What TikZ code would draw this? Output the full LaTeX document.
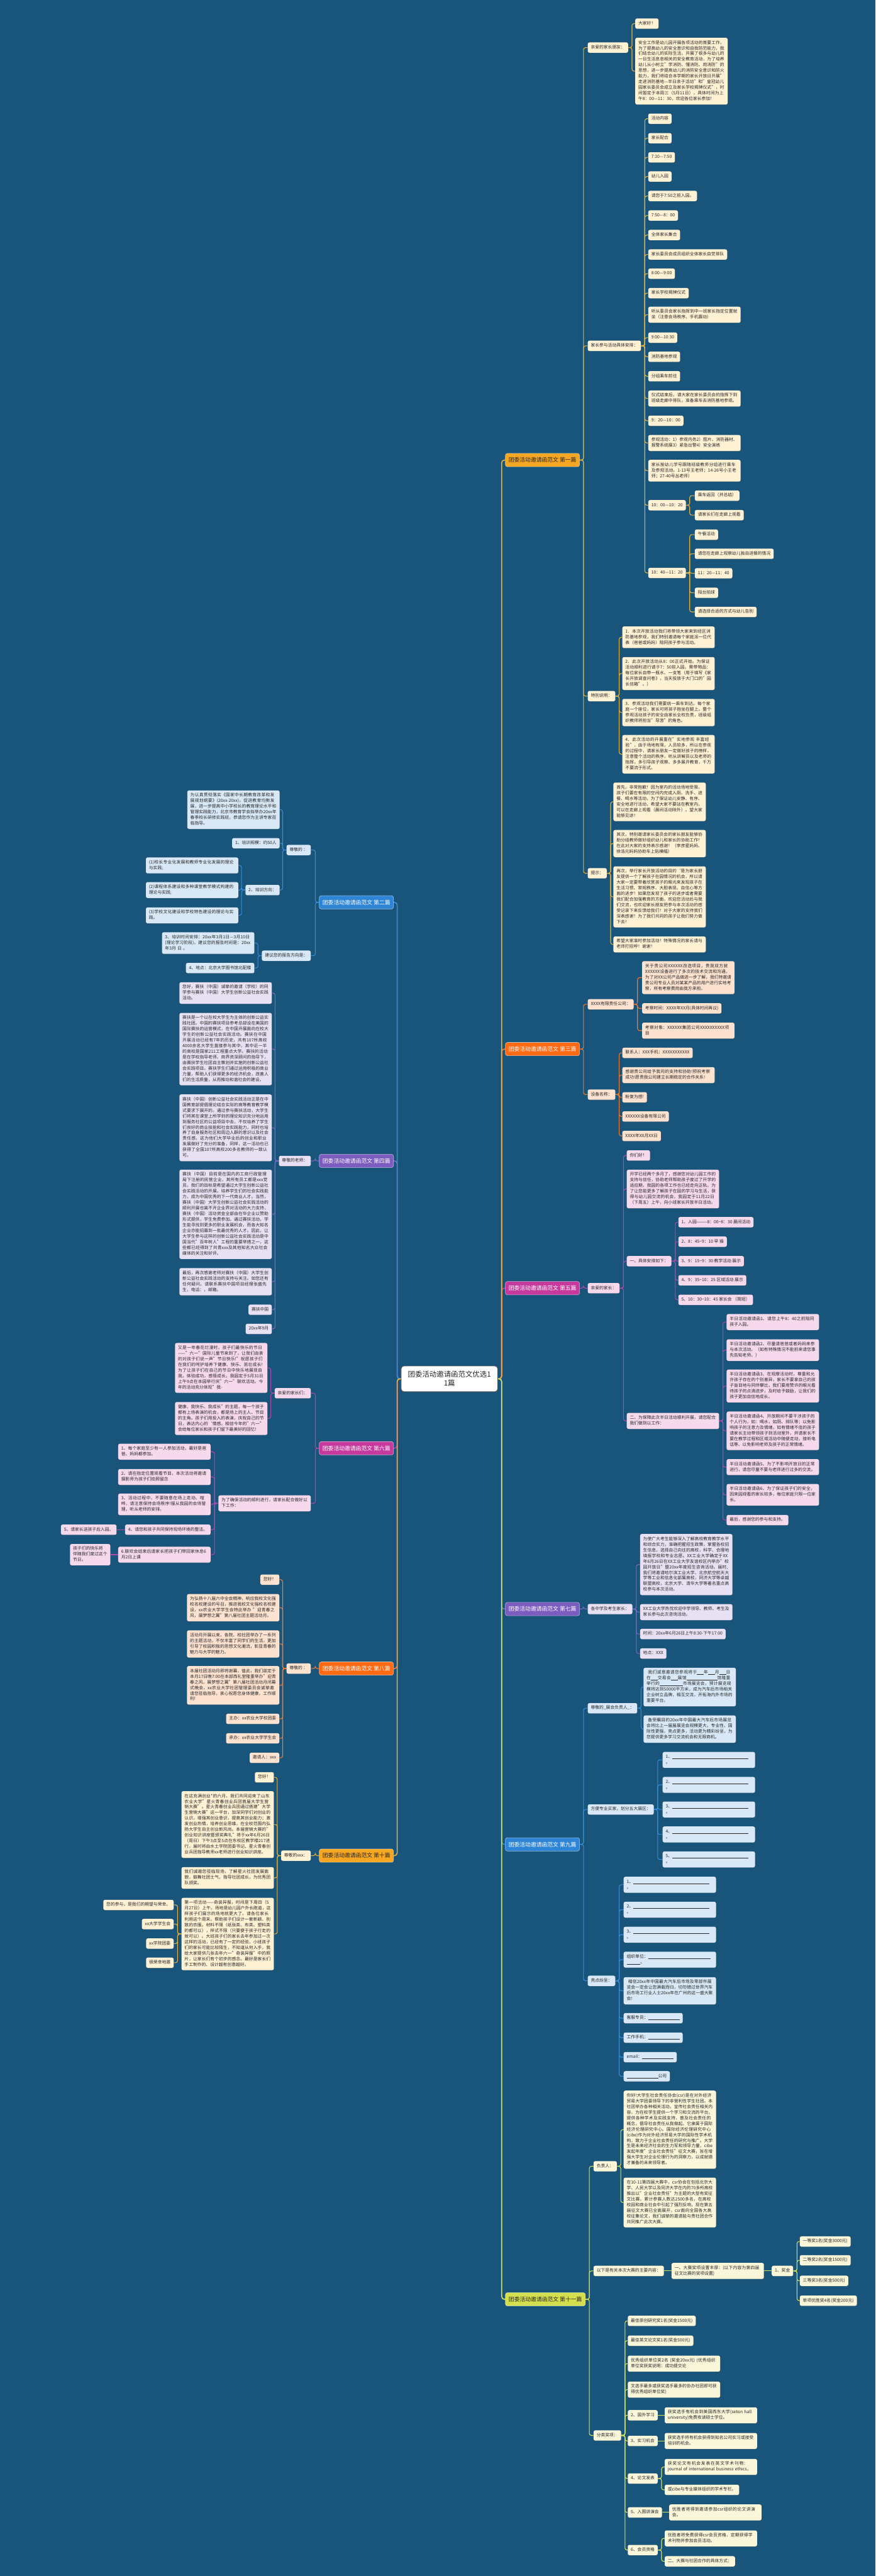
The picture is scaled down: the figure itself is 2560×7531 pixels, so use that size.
\documentclass[tikz,border=0pt]{standalone}
\usepackage{fontspec}
\setmainfont{Noto Sans CJK SC}
\XeTeXlinebreaklocale "zh"
\XeTeXlinebreakskip=0pt plus 1pt
\usetikzlibrary{positioning, backgrounds, calc, shadows}

\definecolor{bgblue}{HTML}{19547A}
% palettes: node fill, leaf fill, line
\definecolor{ndA}{HTML}{F5A623}\definecolor{lfA}{HTML}{FFF1D4}\definecolor{lnA}{HTML}{E7B23C}
\definecolor{ndC}{HTML}{FF6A13}\definecolor{lfC}{HTML}{FDE2D0}\definecolor{lnC}{HTML}{EE7A32}
\definecolor{ndE}{HTML}{C63A9E}\definecolor{lfE}{HTML}{F6D9EC}\definecolor{lnE}{HTML}{AC4BAB}
\definecolor{ndG}{HTML}{7C5CBF}\definecolor{lfG}{HTML}{E8E1F3}\definecolor{lnG}{HTML}{7A69C2}
\definecolor{ndI}{HTML}{2E85D6}\definecolor{lfI}{HTML}{D8E8F6}\definecolor{lnI}{HTML}{3A8DD8}
\definecolor{ndK}{HTML}{D3DF4C}\definecolor{lfK}{HTML}{F9F6DA}\definecolor{lnK}{HTML}{D6E153}

\newcommand\leaffont{\fontsize{6.25}{8.25}\selectfont}
\newcommand\fillin[1]{\rule[-0.8pt]{#1}{0.35pt}}

\begin{document}
\begin{tikzpicture}[
    x=0.5pt, y=-0.5pt,
    leaf/.style={
        rounded corners=2.5pt, inner xsep=4.5pt, inner ysep=3.4pt,
        font=\leaffont, text=black!85, align=left,
        execute at begin node=\strut, execute at end node=\strut,
        drop shadow={shadow xshift=0.4pt, shadow yshift=-0.6pt, opacity=0.35}
    },
    para/.style={text width=126pt},
    leafA/.style={leaf, fill=lfA}, leafC/.style={leaf, fill=lfC},
    leafE/.style={leaf, fill=lfE}, leafG/.style={leaf, fill=lfG},
    leafI/.style={leaf, fill=lfI}, leafK/.style={leaf, fill=lfK},
    branch/.style={
        rounded corners=3pt, minimum width=108.5pt, minimum height=19.5pt,
        inner xsep=3pt, font=\fontsize{8.1}{9.5}\selectfont,
        draw=white, draw opacity=0.6, line width=0.5pt
    },
    branchA/.style={branch, fill=ndA, text=black!85},
    branchC/.style={branch, fill=ndC, text=white},
    branchE/.style={branch, fill=ndE, text=white},
    branchG/.style={branch, fill=ndG, text=white},
    branchI/.style={branch, fill=ndI, text=white},
    branchK/.style={branch, fill=ndK, text=black!85},
    hub/.style={
        rectangle, rounded corners=4pt, fill=white, draw=black!65, line width=0.8pt,
        minimum width=141pt, minimum height=37.5pt, align=center,
        font=\fontsize{10.5}{13}\selectfont, text=black!85
    },
    brR/.style={to path={-- ++(11,0) |- (\tikztotarget)}},
    brL/.style={to path={-- ++(-11,0) |- (\tikztotarget)}},
    link/.style={line width=1pt, rounded corners=3pt},
    trunk/.style={line width=1.5pt, rounded corners=4pt},
    linkA/.style={link, draw=lnA}, linkC/.style={link, draw=lnC},
    linkE/.style={link, draw=lnE}, linkG/.style={link, draw=lnG},
    linkI/.style={link, draw=lnI}, linkK/.style={link, draw=lnK}
]
\useasboundingbox (0,0) rectangle (2560,7531);

% ---------------- Root and branches ----------------
\node[hub] (hub) at (1314,4031) {团委活动邀请函范文优选1\\1篇};

\node[branchA, anchor=west] (bA) at (1477,1345) {团委活动邀请函范文 第一篇};
\node[branchC, anchor=west] (bC) at (1477,3067) {团委活动邀请函范文 第三篇};
\node[branchE, anchor=west] (bE) at (1477,3766) {团委活动邀请函范文 第五篇};
\node[branchG, anchor=west] (bG) at (1477,4704) {团委活动邀请函范文 第七篇};
\node[branchI, anchor=west] (bI) at (1477,5392) {团委活动邀请函范文 第九篇};
\node[branchK, anchor=west, minimum width=117pt] (bK) at (1477,6722) {团委活动邀请函范文 第十一篇};

\node[branchI, anchor=east] (bB) at (1151,2638) {团委活动邀请函范文 第二篇};
\node[branchG, anchor=east] (bD) at (1151,3394) {团委活动邀请函范文 第四篇};
\node[branchE, anchor=east] (bF) at (1151,4234) {团委活动邀请函范文 第六篇};
\node[branchC, anchor=east] (bH) at (1151,4878) {团委活动邀请函范文 第八篇};
\node[branchA, anchor=east] (bJ) at (1151,5425) {团委活动邀请函范文 第十篇};

% ---------------- 第一篇 ----------------
\node[leafA, anchor=west] (a1) at (1718,139) {亲爱的家长朋友：};
\node[leafA, anchor=west] (a11) at (1857,69) {大家好！};
\node[leafA, para, anchor=west] (a12) at (1857,208) {安全工作是幼儿园开展各项活动的首要工作，为了提高幼儿的安全意识和自我防范能力，我们结合幼儿的实际生活，开展了很多与幼儿的一日生活息息相关的安全教育活动，为了培养幼儿从小树立"学消防、懂消防、用消防"的思想，进一步提高幼儿的消防安全意识和防火能力，我们将结合本学期的家长开放日开展"走进消防基地—半日亲子活动"和"皇冠幼儿园家长委员会成立及家长学校揭牌仪式"，时间暂定于本周三（5月11日），具体时间为上午8：00—11：30，欢迎各位家长参加！};

\node[leafA, anchor=west] (a2) at (1718,1011) {家长参与活动具体安排：};
\node[leafA, anchor=west] (a21) at (1895,347) {活动内容};
\node[leafA, anchor=west] (a22) at (1895,404) {家长配合};
\node[leafA, anchor=west] (a23) at (1895,460) {7:10—7:50};
\node[leafA, anchor=west] (a24) at (1895,516) {幼儿入园};
\node[leafA, anchor=west] (a25) at (1895,573) {请您于7:50之前入园。};
\node[leafA, anchor=west] (a26) at (1895,630) {7:50—8：00};
\node[leafA, anchor=west] (a27) at (1895,687) {全体家长集合};
\node[leafA, anchor=west] (a28) at (1895,744) {家长委员会成员组织全体家长自觉排队};
\node[leafA, anchor=west] (a29) at (1895,800) {8:00—9:00};
\node[leafA, anchor=west] (a210) at (1895,857) {家长学校揭牌仪式};
\node[leafA, para, anchor=west] (a211) at (1895,920) {听从委员会家长指挥到中一班家长指定位置就坐（注意会场秩序、手机震动）};
\node[leafA, anchor=west] (a212) at (1895,987) {9:00—10:30};
\node[leafA, anchor=west] (a213) at (1895,1043) {消防基地参观};
\node[leafA, anchor=west] (a214) at (1895,1100) {分组乘车前往};
\node[leafA, para, anchor=west] (a215) at (1895,1165) {仪式结束后，请大家在家长委员会的指挥下到班级走廊中排队，准备乘车去消防基地参观。};
\node[leafA, anchor=west] (a216) at (1895,1230) {9：20—10：00};
\node[leafA, para, anchor=west] (a217) at (1895,1295) {参观活动：1）参观内务2）图片、消防器材、报警系统展3）紧急出警4）安全演练};
\node[leafA, para, anchor=west] (a218) at (1895,1376) {家长按幼儿学号跟随班级教师分组进行乘车及参观活动。1-13号王老师；14-26号小王老师；27-40号丛老师）};
\node[leafA, anchor=west] (a219) at (1895,1477) {10：00—10：20};
\node[leafA, anchor=west] (a2191) at (2031,1449) {乘车返回（并总结）};
\node[leafA, anchor=west] (a2192) at (2031,1506) {请家长们在走廊上观看};
\node[leafA, anchor=west] (a220) at (1895,1675) {10：40—11：20};
\node[leafA, anchor=west] (a2201) at (2031,1563) {午餐活动};
\node[leafA, anchor=west] (a2202) at (2031,1619) {请您在走廊上观察幼儿独自进餐的情况};
\node[leafA, anchor=west] (a2203) at (2031,1676) {11：20—11：40};
\node[leafA, anchor=west] (a2204) at (2031,1733) {阳台拍球};
\node[leafA, anchor=west] (a2205) at (2031,1789) {请选择合适的方式与幼儿告别};

\node[leafA, anchor=west] (a3) at (1718,2035) {特别说明：};
\node[leafA, para, anchor=west] (a31) at (1819,1863) {1．本次开放活动我们将带领大家来到经区消防基地参观，我们特别邀请每个家庭派一位代表（爸爸或妈妈）陪同孩子参与活动。};
\node[leafA, para, anchor=west] (a32) at (1819,1969) {2．此次开放活动从8：00正式开始。为保证活动顺利进行请于7：50前入园。需带物品：每位家长自带一瓶水、一支笔（用于填写《家长开放调查问卷》，当天投放于大门口的"园长信箱"。）};
\node[leafA, para, anchor=west] (a33) at (1819,2083) {3．参观活动我们需要统一乘车到达。每个家庭一个座位，家长可将孩子抱坐在腿上。整个参观活动孩子的安全由家长全权负责，班级组织教师将担当"导游"的角色。};
\node[leafA, para, anchor=west] (a34) at (1819,2205) {4．此次活动的开展重在"实地参观 丰富经验"，由于场地有限，人员较多，所以在参观的过程中，请家长朋友一定做好孩子的榜样，注意整个活动的秩序，听从讲解员以及老师的指挥，多引导孩子观察、多多展开教育，千万不要流于形式。};

\node[leafA, anchor=west] (a4) at (1718,2553) {提示：};
\node[leafA, para, anchor=west] (a41) at (1793,2344) {首先，非常抱歉！因为室内的活动场地受限，孩子们要在有限的空间内完成入厕、洗手、进餐、喝水等活动，为了保证幼儿安静、有序、安全地进行活动，希望大家不要站在教室内，可以在走廊上观看（晨间活动除外）。望大家能够见谅！};
\node[leafA, para, anchor=west] (a42) at (1793,2466) {其次，特别邀请家长委员会的家长朋友能够协助分组教师做好组织幼儿和家长的协助工作！在此对大家的支持表示感谢！（李彦星妈妈、徐浩元妈妈协助车上贴横幅）};
\node[leafA, para, anchor=west] (a43) at (1793,2622) {再次，举行家长开放活动的目的`是为家长朋友提供一个了解孩子在园情况的机会，所以请大家一定要带着欣赏孩子的眼光来发现孩子在生活习惯、常规秩序、大胆表现、自信心等方面的进步！如果您发现了孩子的进步或者需要我们配合加强教育的方面，欢迎您活动后与我们交流，也欢迎家长朋友把参与本次活动的感受记录下来反馈给我们！对于大家的支持我们深表感谢！为了我们共同的孩子让我们努力做下去！};
\node[leafA, para, anchor=west] (a44) at (1793,2761) {希望大家准时参加活动！特殊情况的家长请与老师打招呼！谢谢！};

% ---------------- 第三篇 ----------------
\node[leafC, anchor=west] (c1) at (1718,2936) {XXXX有限责任公司：};
\node[leafC, para, anchor=west] (c11) at (1877,2858) {关于贵公司XXXXXX改造项目，贵我双方就XXXXXX设备进行了多次的技术交流和沟通，为了对XX公司产品做进一步了解，我们特邀请贵公司专业人员对某某产品的用户进行实地考察，所有考察费用由我方承担。};
\node[leafC, anchor=west] (c12) at (1877,2948) {考察时间：XXXX年XX月(具体时间再议)};
\node[leafC, para, anchor=west] (c13) at (1877,3013) {考察对象：XXXXXX集团公司XXXXXXXXXX项目};
\node[leafC, anchor=west] (c2) at (1718,3200) {设备名称：};
\node[leafC, anchor=west] (c21) at (1819,3078) {联系人：XXX手机：XXXXXXXXXXX};
\node[leafC, para, anchor=west] (c22) at (1819,3143) {感谢贵公司给予我司的支持和协助!预祝考察成功!愿贵我公司建立长期稳定的合作关系!};
\node[leafC, anchor=west] (c23) at (1819,3208) {盼复为感!};
\node[leafC, anchor=west] (c24) at (1819,3264) {XXXXXX设备有限公司};
\node[leafC, anchor=west] (c25) at (1819,3321) {XXXX年XX月XX日};

% ---------------- 第五篇 ----------------
\node[leafE, anchor=west] (e1) at (1718,3766) {亲爱的家长：};
\node[leafE, anchor=west] (e11) at (1832,3378) {你们好！};
\node[leafE, para, anchor=west] (e12) at (1832,3476) {开学已经两个多月了，感谢您对幼儿园工作的支持与信任，协助老师帮助孩子度过了开学的适应期，我园的各项工作也已经走向正轨。为了让您能更多了解孩子在园的学习与生活，获得与幼儿园交流的机会，我园定于11月22日（下周五）上午，向小班家长开放半日活动。};
\node[leafE, anchor=west] (e13) at (1832,3687) {一、具体安排如下：};
\node[leafE, anchor=west] (e131) at (1983,3573) {1、入园———8：00\textasciitilde 8：30 晨间活动};
\node[leafE, anchor=west] (e132) at (1983,3630) {2、8：45\textasciitilde 9：10 早 操};
\node[leafE, anchor=west] (e133) at (1983,3687) {3、9：15\textasciitilde 9：30 教学活动 展示};
\node[leafE, anchor=west] (e134) at (1983,3743) {4、9：35\textasciitilde 10：25 区域活动 展示};
\node[leafE, anchor=west] (e135) at (1983,3800) {5、10：30\textasciitilde 10：45 家长会 （简短）};
\node[leafE, para, anchor=west] (e14) at (1832,4154) {二、为保障此次半日活动顺利开展，请您配合我们做到以工作：};
\node[leafE, para, anchor=west] (e141) at (2124,3865) {半日活动邀请函1、请您上午8：40之前陪同孩子入园。};
\node[leafE, para, anchor=west] (e142) at (2124,3947) {半日活动邀请函2、尽量请爸爸或者妈妈来参与本次活动。（如有特殊情况不能前来请您事先告知老师。）};
\node[leafE, para, anchor=west] (e143) at (2124,4052) {半日活动邀请函3、在观摩活动时，尊重和允许孩子存在的个别差异，家长不要拿自己的孩子盲目地与同伴攀比，我们要用赞许的眼光看待孩子的点滴进步，及时给予鼓励，让我们的孩子更加自信地成长。};
\node[leafE, para, anchor=west] (e144) at (2124,4183) {半日活动邀请函4、开放期间不要干涉孩子的个人行为，如：喝水，如厕、排队等；以免影响孩子的注意力及情绪，如有情绪不佳的孩子请家长主动带领孩子到活动室外，并请家长不要在教学过程和区域活动中随便走动，接听电话等、以免影响老师及孩子的正常情绪。};
\node[leafE, para, anchor=west] (e145) at (2124,4289) {半日活动邀请函5、为了不影响开放日的正常进行，请您尽量不要与老师进行过多的交流。};
\node[leafE, para, anchor=west] (e146) at (2124,4370) {半日活动邀请函6、为了保证孩子们的安全，因来园观看的家长较多，每位家庭只限一位家长。};
\node[leafE, anchor=west] (e147) at (2124,4444) {最后，感谢您的参与和支持。};

% ---------------- 第七篇 ----------------
\node[leafG, anchor=west] (g1) at (1718,4704) {各中学及考生家长：};
\node[leafG, para, anchor=west] (g11) at (1871,4574) {为使广大考生能够深入了解高校教育教学水平和综合实力，准确把握招生政策，掌握各校招生信息，选择自己向往的高校，科学、合理地填报学校和专业志愿。XX工业大学确定于XX年6月26日在XX工业大学友谊校区内举办"校园开放日"暨20xx年度招生咨询活动。届时,我们将邀请哈尔滨工业大学、北京航空航天大学等工业和信息化部属高校，同济大学等卓越联盟高校，北京大学、清华大学等著名重点高校参与本次活动。};
\node[leafG, para, anchor=west] (g12) at (1871,4713) {XX工业大学热忱欢迎中学领导、教师、考生及家长参与此次咨询活动。};
\node[leafG, anchor=west] (g13) at (1871,4777) {时间：20xx年6月26日上午8:30-下午17:00};
\node[leafG, anchor=west] (g14) at (1871,4834) {地点：XXX};

% ---------------- 第九篇 ----------------
\node[leafI, anchor=west] (i1) at (1718,4994) {尊敬的\_展会负责人\_：};
\node[leafI, para, anchor=west] (i11) at (1881,4932) {\ 我们诚意邀请您参观将于\fillin{10pt}年\fillin{10pt}月\fillin{10pt}日在\fillin{10pt}交易会\fillin{10pt}展馆\fillin{45pt}馆隆重举行的\fillin{34pt}市场展览会，预计展览规模将达到50000平方米，成为汽车后市场相关企业树立品牌，相互交流，开拓海内外市场的重要平台。};
\node[leafI, para, anchor=west] (i12) at (1881,5055) {\ 备受瞩目的20xx年中国最大汽车后市场展览会将比上一届届展览会规模更大，专业性、国际性更强，亮点更多，活动更为精彩纷呈，为您提供更多学习交流机会和无限商机。};
\node[leafI, anchor=west] (i2) at (1718,5290) {方便专业买家，划分五大展区：};
\node[leafI, para, anchor=west] (i21) at (1937,5145) {1、\fillin{111pt}\\。};
\node[leafI, para, anchor=west] (i22) at (1937,5218) {2、\fillin{111pt}\\。};
\node[leafI, para, anchor=west] (i23) at (1937,5290) {3、\fillin{111pt}\\。};
\node[leafI, para, anchor=west] (i24) at (1937,5363) {4、\fillin{111pt}\\。};
\node[leafI, para, anchor=west] (i25) at (1937,5436) {5、\fillin{111pt}\\。};
\node[leafI, anchor=west] (i3) at (1718,5791) {亮点纷呈：};
\node[leafI, para, anchor=west] (i31) at (1823,5510) {1、\fillin{111pt}\\。};
\node[leafI, para, anchor=west] (i32) at (1823,5583) {2、\fillin{111pt}\\。};
\node[leafI, para, anchor=west] (i33) at (1823,5656) {3、\fillin{111pt}\\。};
\node[leafI, para, anchor=west] (i34) at (1823,5729) {组织单位：\fillin{91pt}\\\fillin{20pt}。};
\node[leafI, para, anchor=west] (i35) at (1823,5820) {\ 相信20xx年中国最大汽车后市场及零部件展览会一定会让您满载而归，切勿错过世界汽车后市场工行业人士20xx年在广州的这一盛大聚会!};
\node[leafI, anchor=west] (i36) at (1823,5900) {客服专员：\fillin{46pt}};
\node[leafI, anchor=west] (i37) at (1823,5957) {工作手机：\fillin{46pt}};
\node[leafI, anchor=west] (i38) at (1823,6014) {email：\fillin{46pt}};
\node[leafI, anchor=west] (i39) at (1823,6070) {\fillin{46pt}公司};

% ---------------- 第十一篇 ----------------
\node[leafK, anchor=west] (k1) at (1735,6333) {负责人：};
\node[leafK, para, anchor=west] (k11) at (1823,6226) {你好!大学生社会责任协会(csr)是在对外经济贸易大学团委领导下的非营利性学生社团。本社团举办各种相关活动，宣传社会责任相关内容，为在校学生提供一个学习和交流的平台，提供各种学术及实践支持，普及社会责任的概念，倡导社会责任从我做起。它隶属于国际经济伦理研究中心。国际经济伦理研究中心(cibe)作为对外经济贸易大学的国际性学术机构，致力于企业社会责任的研究与推广。大学生是未来经济社会的生力军和领导力量，cibe发起年度"企业社会责任"征文大赛，旨在增强大学生对企业伦理行为的洞察力，以成就德才兼备的未来领导者。};
\node[leafK, para, anchor=west] (k12) at (1823,6439) {在10-11第四届大赛中，csr协会在包括北京大学、人民大学以及同济大学在内的70多所高校推出以"企业社会责任"为主题的大型有奖征文比赛，累计参赛人数达2500多名，在高校校园和商业社会中引起了强烈反响，现在第五届征文大赛已全面展开，csr面向全国各大高校征集论文，我们诚挚的邀请能与贵社团合作共同推广此次大赛。};
\node[leafK, anchor=west] (k2) at (1735,6639) {以下是有关本次大赛的主要内容：};
\node[leafK, para, anchor=west] (k21) at (1963,6639) {一、大赛奖项设置丰厚：(以下内容为第四届征文比赛的奖项设置)};
\node[leafK, anchor=west] (k211) at (2256,6639) {1、奖金};
\node[leafK, anchor=west] (k2111) at (2338,6553) {一等奖1名(奖金3000元)};
\node[leafK, anchor=west] (k2112) at (2338,6608) {二等奖2名(奖金1500元)};
\node[leafK, anchor=west] (k2113) at (2338,6668) {三等奖3名(奖金500元)};
\node[leafK, anchor=west] (k2114) at (2338,6726) {单项优胜奖4名(奖金200元)};
\node[leafK, anchor=west] (k3) at (1735,7120) {分类奖项：};
\node[leafK, anchor=west] (k31) at (1835,6785) {最佳原创研究奖1名(奖金1500元)};
\node[leafK, anchor=west] (k32) at (1835,6843) {最佳英文论文奖1名(奖金500元)};
\node[leafK, para, anchor=west] (k33) at (1835,6910) {优秀组织单位奖2名 (奖金20xx元) (优秀组织单位奖获奖说明：成功提交论};
\node[leafK, para, anchor=west] (k34) at (1835,6986) {文选手最多或获奖选手最多的协办社团即可获得优秀组织单位奖)};
\node[leafK, anchor=west] (k35) at (1835,7061) {2、国外学习};
\node[leafK, para, anchor=west] (k351) at (1943,7061) {获奖选手有机会到美国西东大学(seton hall university)免费攻读硕士学位。};
\node[leafK, anchor=west] (k36) at (1835,7136) {3、实习机会};
\node[leafK, para, anchor=west] (k361) at (1943,7136) {获奖选手将有机会获得到知名公司实习或接受培训的机会。};
\node[leafK, anchor=west] (k37) at (1835,7246) {4、论文发表};
\node[leafK, para, anchor=west] (k371) at (1943,7212) {获奖论文有机会发表在英文学术刊物：journal of international business ethics，};
\node[leafK, anchor=west] (k372) at (1943,7279) {或cibe与专业媒体组织的学术专栏。};
\node[leafK, anchor=west] (k38) at (1835,7345) {5、入围讲演会};
\node[leafK, para, anchor=west] (k381) at (1956,7345) {优胜者将得到邀请参加csr组织的论文讲演会。};
\node[leafK, anchor=west] (k39) at (1835,7455) {6、会员资格};
\node[leafK, para, anchor=west] (k391) at (1943,7421) {优胜者将免费获得csr会员资格，定期获得学术刊物并参加会员活动。};
\node[leafK, anchor=west] (k392) at (1943,7488) {二、大赛与社团合作的具体方式：};

% ---------------- 第二篇 ----------------
\node[leafI, anchor=east] (b1) at (909,2485) {尊敬的 ：};
\node[leafI, para, anchor=east] (b11) at (818,2367) {为认真贯彻落实《国家中长期教育改革和发展规划纲要》(20xx-20xx)，促进教育均衡发展，进一步提高中小学校长的教育理论水平和管理实践能力，北京市教育学会拟举办20xx年春季校长研修实践班，恭请您作为主讲专家莅临指导。};
\node[leafI, anchor=east] (b12) at (818,2465) {1、培训规模：约50人};
\node[leafI, anchor=east] (b13) at (818,2602) {2、培训方向：};
\node[leafI, para, anchor=east] (b131) at (697,2530) {(1)校长专业化发展和教师专业化发展的理论与实践;};
\node[leafI, para, anchor=east] (b132) at (697,2602) {(2)课程体系建设和多种课堂教学模式构建的理论与实践;};
\node[leafI, para, anchor=east] (b133) at (697,2676) {(3)学校文化建设和学校特色建设的理论与实践。};
\node[leafI, anchor=east] (b2) at (909,2794) {建议您的报告方向是：};
\node[leafI, para, anchor=east] (b21) at (744,2757) {3、培训时间安排：20xx年3月1日—3月10日(理论学习阶段)，建议您的报告时间是：20xx年3月 日 。};
\node[leafI, anchor=east] (b22) at (744,2830) {4、地点：北京大学图书馆北配楼};

% ---------------- 第四篇 ----------------
\node[leafG, anchor=east] (d1) at (909,3394) {尊敬的老师：};
\node[leafG, para, anchor=east] (d11) at (795,2903) {您好，赛扶（中国）诚挚的邀请（学校）的同学参与赛扶（中国）大学生创新公益社会实践活动。};
\node[leafG, para, anchor=east] (d12) at (795,3067) {赛扶是一个以在校大学生为主体的创新公益实践社团。中国的赛扶项目参考总部设在美国的国际赛扶的运营模式，在中国开展面向在校大学生的创新公益社会实践活动。赛扶在中国开展活动已经有7年的历史，共有107所高校4000余名大学生直接参与其中，其中近一半的高校是国家211工程重点大学。赛扶的活动是在学校指导老师、商界资深顾问的指导下，由赛扶学生社团自主策划并实施的创新公益社会实践项目。赛扶学生们通过运用积极的商业力量，帮助人们获得更多的经济机会，改善人们的生活质量，从而推动和谐社会的建设。};
\node[leafG, para, anchor=east] (d13) at (795,3297) {赛扶（中国）创新公益社会实践活动正是在中国教育部提倡理论结合实际的高等教育教学模式要求下展开的。通过参与赛扶活动，大学生们将其在课堂上所学到的理论知识充分地运用到服务社区的公益项目中去，不仅培养了学生们良好的商业技能和社会实践能力，同时也培养了自身服务社区和周边人群的意识以及社会责任感，这为他们大学毕业后的创业和职业发展做好了充分的准备，同样，这一活动也已获得了全国107所高校200多名教师的一致认可。};
\node[leafG, para, anchor=east] (d14) at (795,3550) {赛扶（中国）目前是在国内的工商行政管理局下注册的民营企业，其所有员工都是xxx党员。我们的目标是希望通过大学生创新公益社会实践活动的开展，培养学生们的社会实践能力，成为中国优秀的下一代商业人才。当然，赛扶（中国）大学生创新公益社会实践活动的顺利开展也离不开企业界对活动的大力支持，赛扶（中国）活动资金全部由在华企业以赞助形式提供，学生免费参加。通过赛扶活动，学生能寻找到更多的职业发展机会，而各大知名企业亦能招募到一批最优秀的人才。因此，让大学生参与这样的创新公益社会实践活动是中国当代"百年树人"工程的重要举措之一，这些都已经得到了共青xxx及其他知名大众社会媒体的关注和好评。};
\node[leafG, para, anchor=east] (d15) at (795,3747) {最后，再次感谢老师对赛扶（中国）大学生创新公益社会实践活动的支持与关注。如您还有任何疑问，请联系赛扶中国项目经理张盛先生，电话：，邮箱。};
\node[leafG, anchor=east] (d16) at (795,3829) {赛扶中国};
\node[leafG, anchor=east] (d17) at (795,3885) {20xx年9月};

% ---------------- 第六篇 ----------------
\node[leafE, anchor=east] (f1) at (909,4073) {亲爱的家长们：};
\node[leafE, para, anchor=east] (f11) at (782,3999) {又是一年春花烂漫时，孩子们最快乐的节日——"六一"国际儿童节来到了，让我们由衷的对孩子们说一声"节日快乐!"祝愿孩子们在我们的呵护培养下健康、快乐、茁壮成长!为了让孩子们在自己的节日中快乐地展现自我，体验成功，感悟成长，我园定于5月31日上午9点在本园举行庆"六一"联欢活动。今年的活动充分体现"我-};
\node[leafE, para, anchor=east] (f12) at (782,4147) {健康、我快乐、我成长"的主题，每一个孩子都有上场表演的机会，都是场上的主人、节目的主角。孩子们用投入的表演，庆祝自己的节日，表达内心的`情感。相信今年的"六一"会给每位家长和孩子们留下最美好的回忆!};
\node[leafE, para, anchor=east] (f2) at (909,4395) {为了确保活动的顺利进行，请家长配合做好以下工作：};
\node[leafE, para, anchor=east] (f21) at (616,4244) {1、每个家庭至少有一人参加活动，最好是爸爸、妈妈都参加。};
\node[leafE, para, anchor=east] (f22) at (616,4318) {2、请在指定位置观看节目，本次活动将邀请摄影师为孩子们拍照留念};
\node[leafE, para, anchor=east] (f23) at (616,4398) {3、活动过程中，不要随意在场上走动、喧哗，请注意保持会场秩序!服从我园的会场管理，听从老师的安排。};
\node[leafE, anchor=east] (f24) at (616,4472) {4、请您和孩子共同保持现场环境的整洁。};
\node[leafE, anchor=east] (f241) at (341,4472) {5、请家长送孩子后入园。};
\node[leafE, para, anchor=east] (f25) at (616,4545) {6.联欢会结束后请家长把孩子们带回家休息6月2日上课};
\node[leafE, anchor=east] (f251) at (323,4545) {孩子们的快乐将\\伴随我们度过这个\\节日。};

% ---------------- 第八篇 ----------------
\node[leafC, anchor=east] (h1) at (909,4878) {尊敬的 ：};
\node[leafC, anchor=east] (h11) at (817,4618) {您好！};
\node[leafC, para, anchor=east] (h12) at (817,4700) {为弘扬十八届六中全会精神，响应我校文化强校名校建设的号召，推进我校文化强校名校建设，xx农业大学学生会特此举办 "迎青春之风，展梦想之翼"第八届社团主题活动月。};
\node[leafC, para, anchor=east] (h13) at (817,4806) {活动月开展以来，各院、校社团举办了一系列的主题活动，不仅丰富了同学们的生活，更加引导了校园积极的思想文化潮流，彰显青春的魅力与大学的魅力。};
\node[leafC, para, anchor=east] (h14) at (817,4927) {本届社团活动月即将谢幕，值此，我们兹定于本月17日晚7:00在本部西礼堂隆重举办"迎青春之风，展梦想之翼"第八届社团活动月闭幕式晚会，xx农业大学社团管理委员会诚挚邀请您莅临指导，衷心祝愿您身体健康，工作顺利!};
\node[leafC, anchor=east] (h15) at (817,5025) {主办：xx农业大学校团委};
\node[leafC, anchor=east] (h16) at (817,5082) {承办：xx农业大学学生会};
\node[leafC, anchor=east] (h17) at (817,5139) {邀请人：xxx};

% ---------------- 第十篇 ----------------
\node[leafA, anchor=east] (j1) at (909,5425) {尊敬的xxx：};
\node[leafA, anchor=east] (j11) at (801,5196) {您好！};
\node[leafA, para, anchor=east] (j12) at (801,5334) {在这充满创业*的六月，我们共同迎来了山东农业大学"星火青春创业兵团首届大学生营销大赛"。星火青春创业兵团通过搭建"大学生营销大赛"这一平台，加深同学们对创业的认识，增强其创业意识，提高其创业能力；激发创业热情，培养创业思维，在全校范围内弘扬大学生自主创业新风尚。本届营销大赛的"创业知识讲座暨颁奖典礼"将于xx年6月26日（周日）下午3点至5点在东校区教学楼217进行。届时将由水土学院团委书记、星火青春创业兵团指导教师xx老师进行创业知识讲座。};
\node[leafA, para, anchor=east] (j13) at (801,5490) {我们诚邀您莅临现场，了解星火社团发展面貌，鼓舞社团士气，指导社团成长，为优秀团队颁奖。};
\node[leafA, para, anchor=east] (j14) at (801,5654) {第一项活动——奇装异服，时间是下周四（5月27日）上午。场地是幼儿园户外长跑道，这样孩子们展示的场地就更大了。请各位家长利用这个周末，帮助孩子们设计一套新颖、别致的衣服。材料不限（纸张类、布类、塑料类的都可以），样式不限（只要便于孩子行走的就可以）。大班孩子们的家长去年参加过一次这样的活动，已经有了一定的经验，小班孩子们的家长可能比较陌生，不知道从何入手，我给大家提供几张去年六一"奇装异服"中的照片，让家长们有个初步的感念。最好是家长们手工制作的、设计越有创意越好。};
\node[leafA, anchor=east] (j141) at (508,5569) {您的参与，是我们的期望与荣幸。};
\node[leafA, anchor=east] (j142) at (508,5625) {xx大学学生会};
\node[leafA, anchor=east] (j143) at (508,5682) {xx学院团委};
\node[leafA, anchor=east] (j144) at (508,5738) {很荣幸地邀};

% ---------------- Connectors ----------------
\begin{scope}[on background layer]
\fill[bgblue] (0,0) rectangle (2560,7531);

% root to branches (nearest first, so the outer line lies on top)
\draw[trunk, draw=lnE] (hub.east) to[brR] (bE.west);
\draw[trunk, draw=lnC] (hub.east) to[brR] (bC.west);
\draw[trunk, draw=lnA] (hub.east) to[brR] (bA.west);
\draw[trunk, draw=lnG] (hub.east) to[brR] (bG.west);
\draw[trunk, draw=lnI] (hub.east) to[brR] (bI.west);
\draw[trunk, draw=lnK] (hub.east) to[brR] (bK.west);
\draw[trunk, draw=lnG] (hub.west) to[brL] (bD.east);
\draw[trunk, draw=lnI] (hub.west) to[brL] (bB.east);
\draw[trunk, draw=lnE] (hub.west) to[brL] (bF.east);
\draw[trunk, draw=lnC] (hub.west) to[brL] (bH.east);
\draw[trunk, draw=lnA] (hub.west) to[brL] (bJ.east);

% 第一篇
\draw[linkA] (bA.east) edge[brR] (a1.west) edge[brR] (a2.west) edge[brR] (a3.west) edge[brR] (a4.west);
\draw[linkA] (a1.east) edge[brR] (a11.west) edge[brR] (a12.west);
\draw[linkA] (a2.east) edge[brR] (a21.west) edge[brR] (a22.west) edge[brR] (a23.west)
    edge[brR] (a24.west) edge[brR] (a25.west) edge[brR] (a26.west) edge[brR] (a27.west)
    edge[brR] (a28.west) edge[brR] (a29.west) edge[brR] (a210.west) edge[brR] (a211.west)
    edge[brR] (a212.west) edge[brR] (a213.west) edge[brR] (a214.west) edge[brR] (a215.west)
    edge[brR] (a216.west) edge[brR] (a217.west) edge[brR] (a218.west) edge[brR] (a219.west)
    edge[brR] (a220.west);
\draw[linkA] (a219.east) edge[brR] (a2191.west) edge[brR] (a2192.west);
\draw[linkA] (a220.east) edge[brR] (a2201.west) edge[brR] (a2202.west) edge[brR] (a2203.west)
    edge[brR] (a2204.west) edge[brR] (a2205.west);
\draw[linkA] (a3.east) edge[brR] (a31.west) edge[brR] (a32.west) edge[brR] (a33.west) edge[brR] (a34.west);
\draw[linkA] (a4.east) edge[brR] (a41.west) edge[brR] (a42.west) edge[brR] (a43.west) edge[brR] (a44.west);

% 第三篇
\draw[linkC] (bC.east) edge[brR] (c1.west) edge[brR] (c2.west);
\draw[linkC] (c1.east) edge[brR] (c11.west) edge[brR] (c12.west) edge[brR] (c13.west);
\draw[linkC] (c2.east) edge[brR] (c21.west) edge[brR] (c22.west) edge[brR] (c23.west)
    edge[brR] (c24.west) edge[brR] (c25.west);

% 第五篇
\draw[linkE] (bE.east) edge[brR] (e1.west);
\draw[linkE] (e1.east) edge[brR] (e11.west) edge[brR] (e12.west) edge[brR] (e13.west) edge[brR] (e14.west);
\draw[linkE] (e13.east) edge[brR] (e131.west) edge[brR] (e132.west) edge[brR] (e133.west)
    edge[brR] (e134.west) edge[brR] (e135.west);
\draw[linkE] (e14.east) edge[brR] (e141.west) edge[brR] (e142.west) edge[brR] (e143.west)
    edge[brR] (e144.west) edge[brR] (e145.west) edge[brR] (e146.west) edge[brR] (e147.west);

% 第七篇
\draw[linkG] (bG.east) edge[brR] (g1.west);
\draw[linkG] (g1.east) edge[brR] (g11.west) edge[brR] (g12.west) edge[brR] (g13.west) edge[brR] (g14.west);

% 第九篇
\draw[linkI] (bI.east) edge[brR] (i1.west) edge[brR] (i2.west) edge[brR] (i3.west);
\draw[linkI] (i1.east) edge[brR] (i11.west) edge[brR] (i12.west);
\draw[linkI] (i2.east) edge[brR] (i21.west) edge[brR] (i22.west) edge[brR] (i23.west)
    edge[brR] (i24.west) edge[brR] (i25.west);
\draw[linkI] (i3.east) edge[brR] (i31.west) edge[brR] (i32.west) edge[brR] (i33.west)
    edge[brR] (i34.west) edge[brR] (i35.west) edge[brR] (i36.west) edge[brR] (i37.west)
    edge[brR] (i38.west) edge[brR] (i39.west);

% 第十一篇
\draw[linkK] (bK.east) edge[brR] (k1.west) edge[brR] (k2.west) edge[brR] (k3.west);
\draw[linkK] (k1.east) edge[brR] (k11.west) edge[brR] (k12.west);
\draw[linkK] (k2.east) -- (k21.west);
\draw[linkK] (k21.east) -- (k211.west);
\draw[linkK] (k211.east) edge[brR] (k2111.west) edge[brR] (k2112.west) edge[brR] (k2113.west) edge[brR] (k2114.west);
\draw[linkK] (k3.east) edge[brR] (k31.west) edge[brR] (k32.west) edge[brR] (k33.west)
    edge[brR] (k34.west) edge[brR] (k35.west) edge[brR] (k36.west) edge[brR] (k37.west)
    edge[brR] (k38.west) edge[brR] (k39.west);
\draw[linkK] (k35.east) -- (k351.west);
\draw[linkK] (k36.east) -- (k361.west);
\draw[linkK] (k37.east) edge[brR] (k371.west) edge[brR] (k372.west);
\draw[linkK] (k38.east) -- (k381.west);
\draw[linkK] (k39.east) edge[brR] (k391.west) edge[brR] (k392.west);

% 第二篇
\draw[linkI] (bB.west) edge[brL] (b1.east) edge[brL] (b2.east);
\draw[linkI] (b1.west) edge[brL] (b11.east) edge[brL] (b12.east) edge[brL] (b13.east);
\draw[linkI] (b13.west) edge[brL] (b131.east) edge[brL] (b132.east) edge[brL] (b133.east);
\draw[linkI] (b2.west) edge[brL] (b21.east) edge[brL] (b22.east);

% 第四篇
\draw[linkG] (bD.west) edge[brL] (d1.east);
\draw[linkG] (d1.west) edge[brL] (d11.east) edge[brL] (d12.east) edge[brL] (d13.east)
    edge[brL] (d14.east) edge[brL] (d15.east) edge[brL] (d16.east) edge[brL] (d17.east);

% 第六篇
\draw[linkE] (bF.west) edge[brL] (f1.east) edge[brL] (f2.east);
\draw[linkE] (f1.west) edge[brL] (f11.east) edge[brL] (f12.east);
\draw[linkE] (f2.west) edge[brL] (f21.east) edge[brL] (f22.east) edge[brL] (f23.east)
    edge[brL] (f24.east) edge[brL] (f25.east);
\draw[linkE] (f24.west) -- (f241.east);
\draw[linkE] (f25.west) -- (f251.east);

% 第八篇
\draw[linkC] (bH.west) edge[brL] (h1.east);
\draw[linkC] (h1.west) edge[brL] (h11.east) edge[brL] (h12.east) edge[brL] (h13.east)
    edge[brL] (h14.east) edge[brL] (h15.east) edge[brL] (h16.east) edge[brL] (h17.east);

% 第十篇
\draw[linkA] (bJ.west) edge[brL] (j1.east);
\draw[linkA] (j1.west) edge[brL] (j11.east) edge[brL] (j12.east) edge[brL] (j13.east) edge[brL] (j14.east);
\draw[linkA] (j14.west) edge[brL] (j141.east) edge[brL] (j142.east) edge[brL] (j143.east) edge[brL] (j144.east);
\end{scope}

\end{tikzpicture}
\end{document}
